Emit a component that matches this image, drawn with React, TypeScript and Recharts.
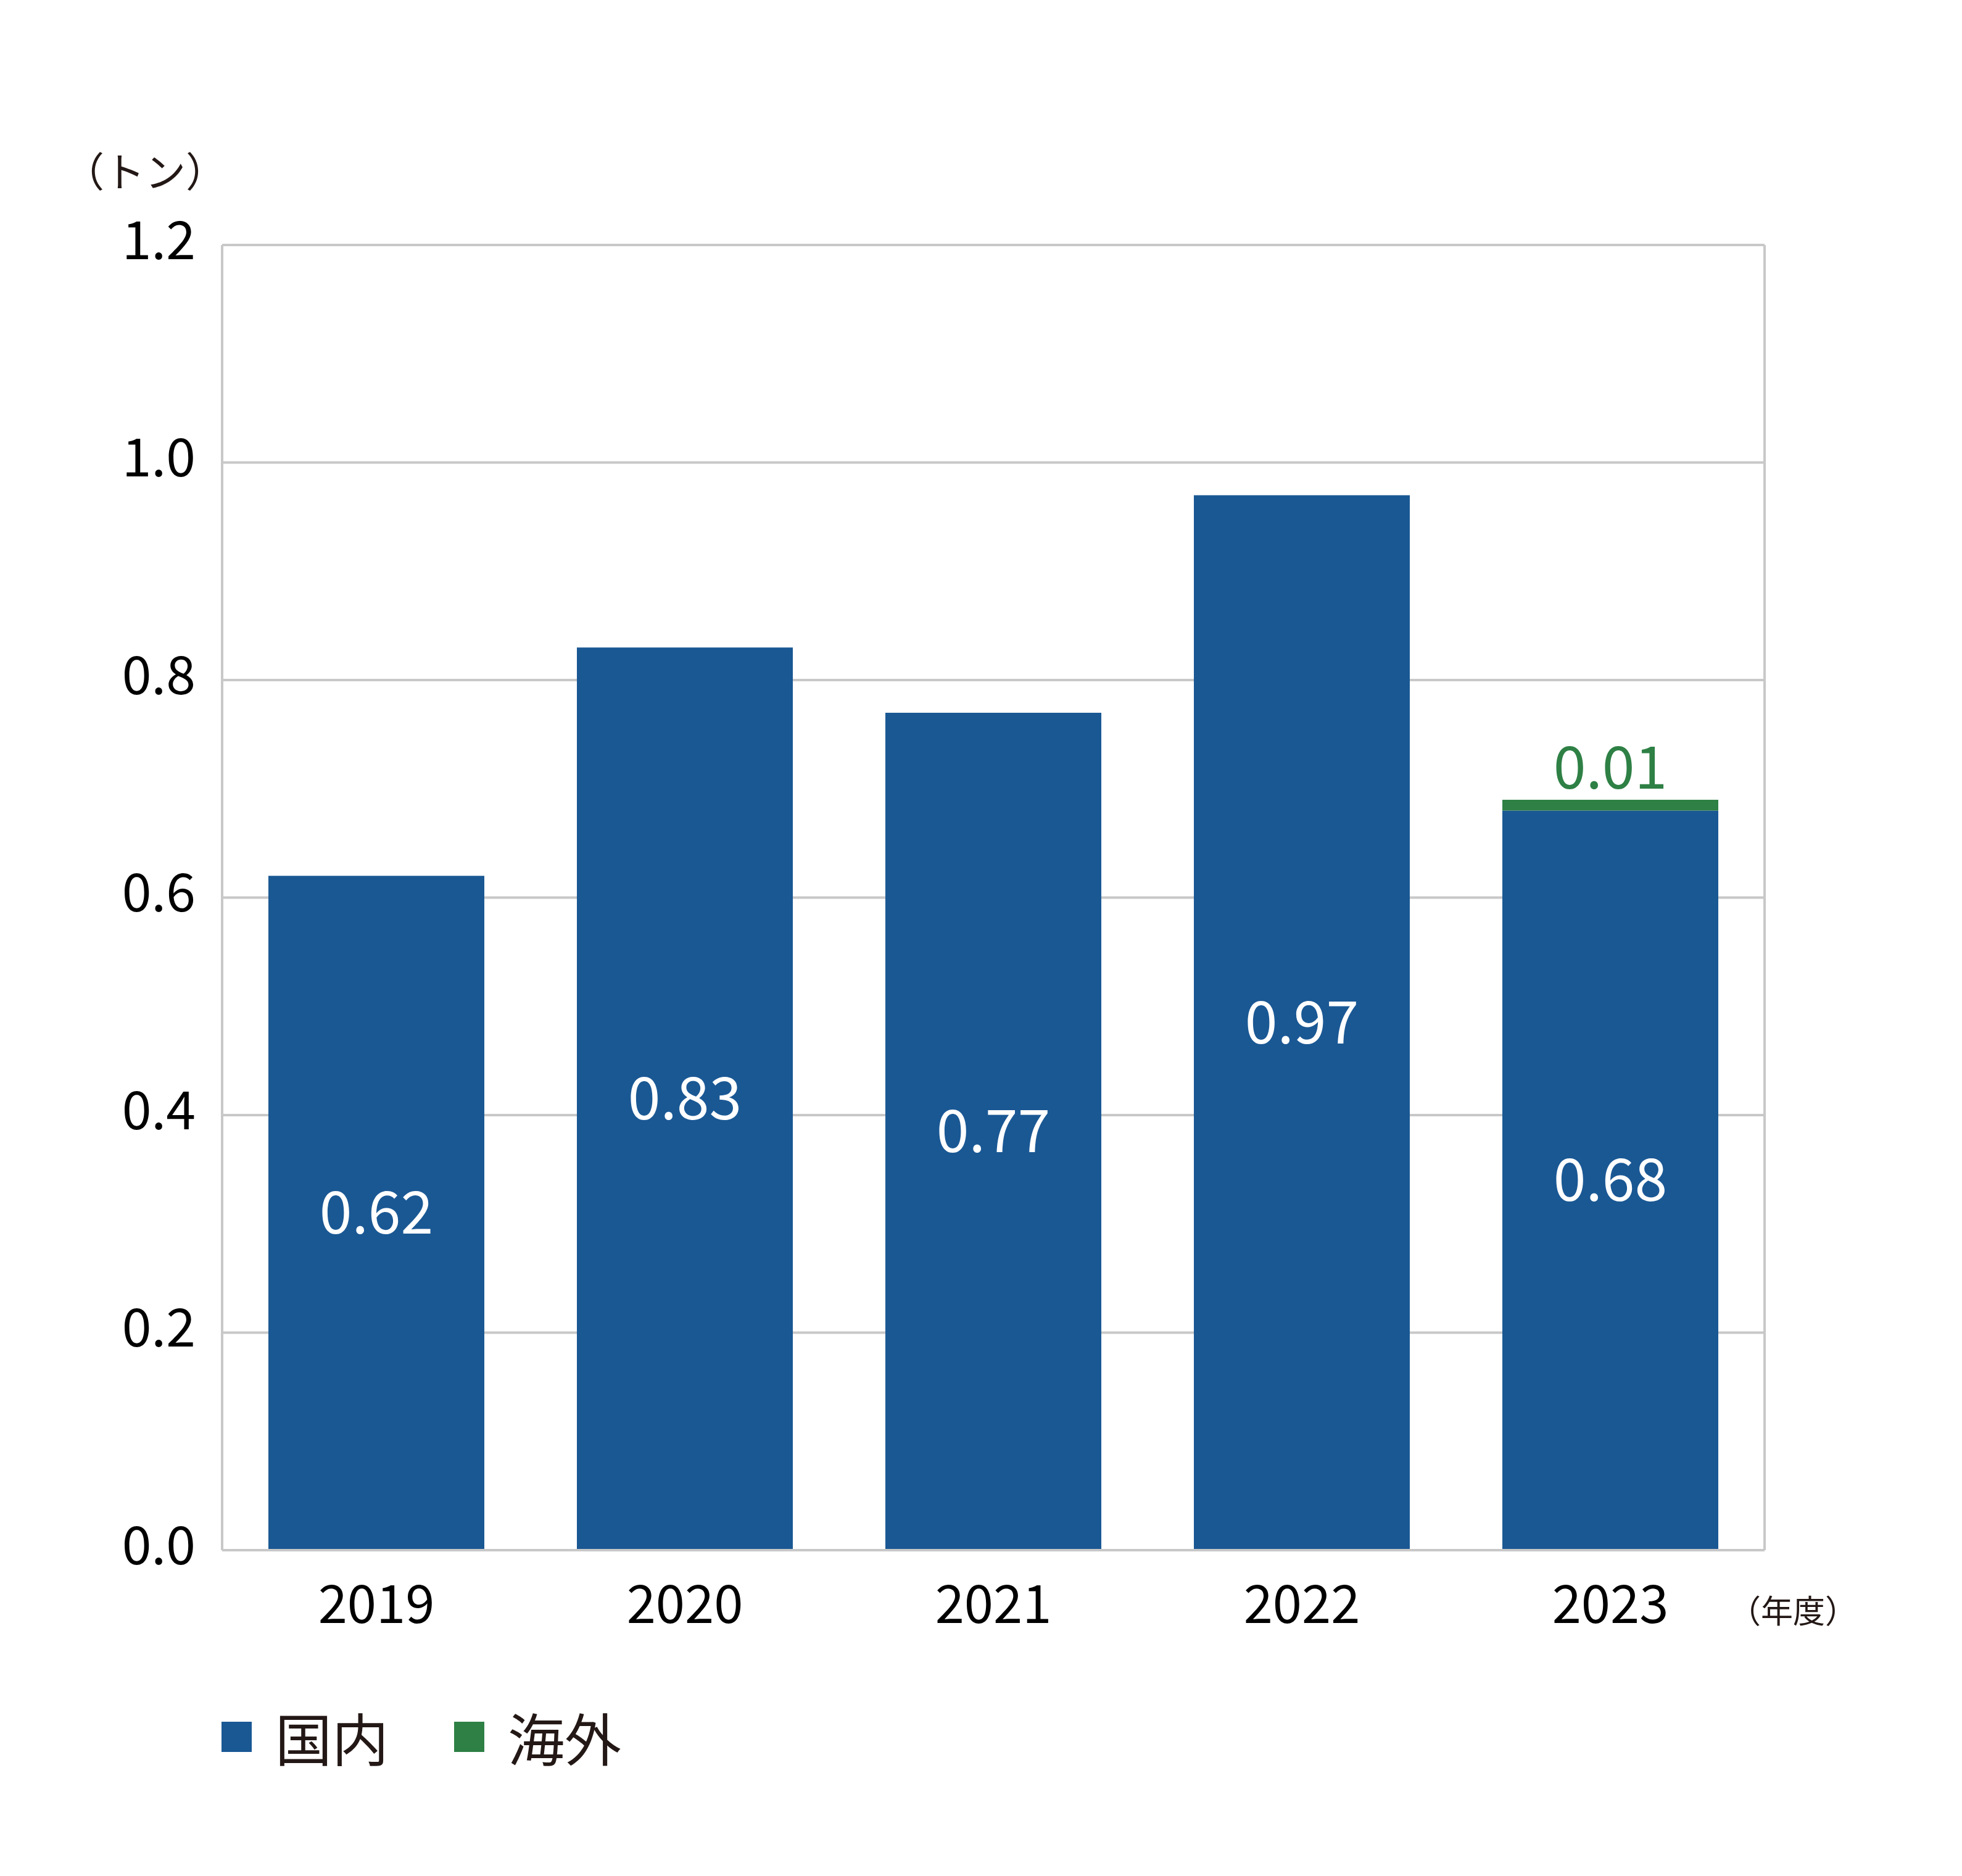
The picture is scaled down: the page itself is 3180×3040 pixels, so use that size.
import { BarChart, Bar, XAxis, YAxis, CartesianGrid, LabelList, Legend } from 'recharts';

const years = ['2019', '2020', '2021', '2022', '2023'];
const domestic = [0.62, 0.83, 0.77, 0.97, 0.68];
const overseas = [0, 0, 0, 0, 0.01];
const yTicks = [0, 0.2, 0.4, 0.6, 0.8, 1.0, 1.2];

const BLUE = '#1a5894';
const GREEN = '#2e8045';
const GRID = '#c8c8c8';
const FONT = '"Noto Sans CJK JP", "Noto Sans", sans-serif';

const data = years.map((y, i) => ({ year: y, domestic: domestic[i], overseas: overseas[i] }));

const legendItems = [
  { name: '国内', color: BLUE },
  { name: '海外', color: GREEN },
];

function LegendBox() {
  return (
    <div style={{ display: 'flex', alignItems: 'center', fontFamily: FONT, height: 92 }}>
      {legendItems.map((it, i) => (
        <div key={it.name} style={{ display: 'flex', alignItems: 'center', marginRight: i === 0 ? 106 : 0 }}>
          <div style={{ width: 49, height: 49, background: it.color, marginRight: 38 }} />
          <span style={{ fontSize: 92, lineHeight: 1, color: '#231815' }}>{it.name}</span>
        </div>
      ))}
    </div>
  );
}

export default function App() {
  return (
    <div style={{ position: 'absolute', left: 0, top: 0, width: 3180, height: 3040, background: '#fff' }}>
      <BarChart
        width={3180}
        height={3040}
        data={data}
        margin={{ top: 397, right: 316, bottom: 336, left: 0 }}
        barCategoryGap="15%"
        style={{ fontFamily: FONT }}
      >
        <CartesianGrid vertical={false} stroke={GRID} strokeWidth={4} />
        <XAxis
          dataKey="year"
          height={100}
          tickLine={false}
          tickSize={0}
          tickMargin={58}
          axisLine={{ stroke: GRID, strokeWidth: 4 }}
          tick={{ fill: '#000', fontSize: 85, fontFamily: FONT }}
          label={{
            content: () => (
              <text x={2802} y={2630} fontSize={52} fill="#231815" fontFamily={FONT}>（年度）</text>
            ),
          }}
        />
        <YAxis
          width={360}
          domain={[0, 1.2]}
          ticks={yTicks}
          tickFormatter={(v: number) => v.toFixed(1)}
          tickLine={false}
          tickSize={0}
          tickMargin={43}
          axisLine={{ stroke: GRID, strokeWidth: 4 }}
          tick={{ fill: '#000', fontSize: 86, fontFamily: FONT, dy: -8 }}
          label={{
            content: () => (
              <text x={103} y={303} fontSize={66} fill="#231815" fontFamily={FONT}>（トン）</text>
            ),
          }}
        />
        <YAxis
          yAxisId="right"
          orientation="right"
          width={4}
          domain={[0, 1.2]}
          tick={false}
          tickLine={false}
          axisLine={{ stroke: GRID, strokeWidth: 4 }}
        />
        <Legend
          content={() => <LegendBox />}
          wrapperStyle={{ left: 359, top: 2768, width: 'auto', bottom: 'auto' }}
        />
        <Bar dataKey="domestic" name="国内" stackId="a" fill={BLUE} isAnimationActive={false}>
          <LabelList
            dataKey="domestic"
            position="center"
            fill="#fff"
            fontSize={95}
            fontFamily={FONT}
            formatter={(v: number) => v.toFixed(2)}
          />
        </Bar>
        <Bar dataKey="overseas" name="海外" stackId="a" fill={GREEN} isAnimationActive={false}>
          <LabelList
            dataKey="overseas"
            position="top"
            offset={18}
            fill={GREEN}
            fontSize={95}
            fontFamily={FONT}
            formatter={(v: number) => (v ? v.toFixed(2) : '')}
          />
        </Bar>
      </BarChart>
    </div>
  );
}
